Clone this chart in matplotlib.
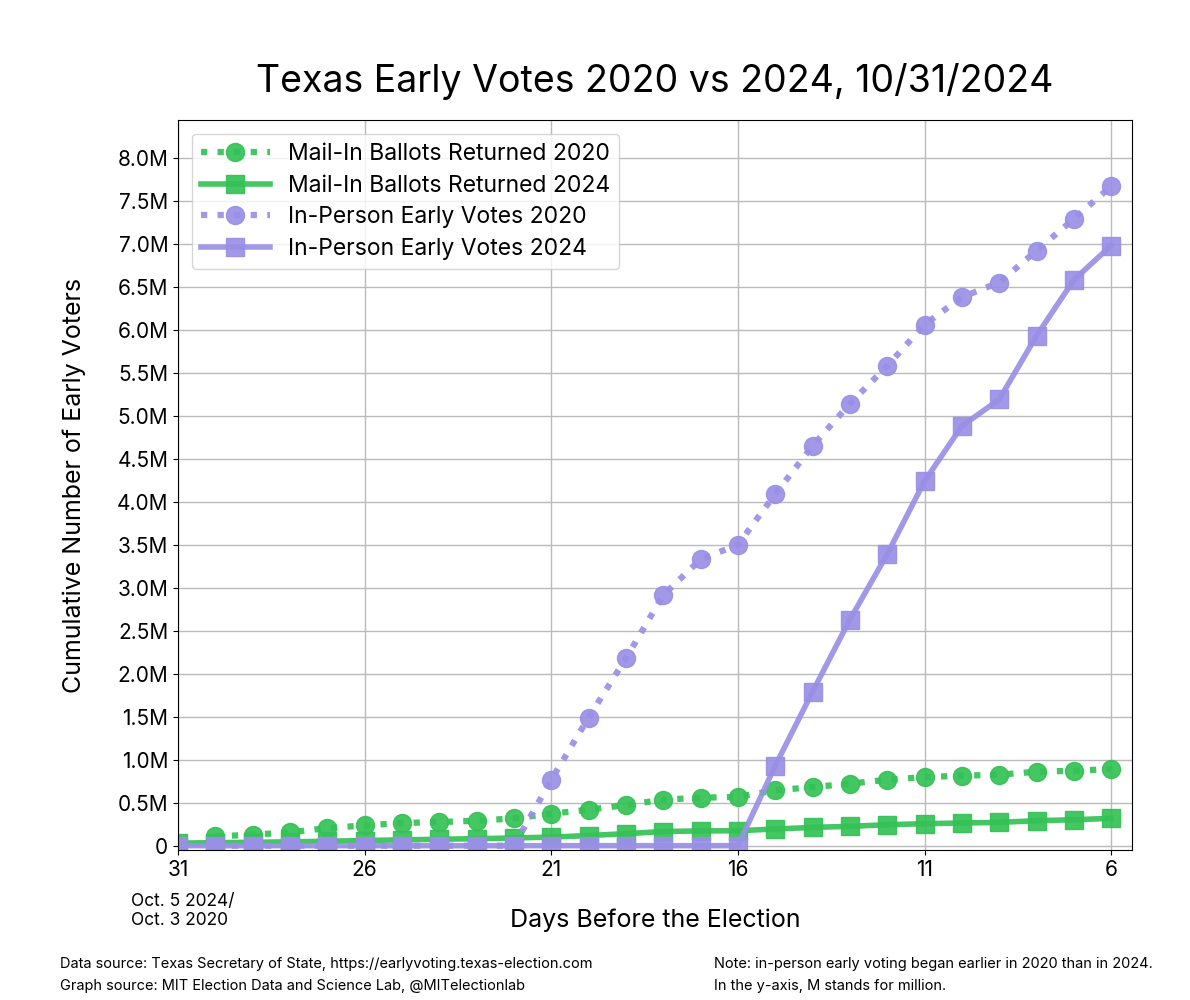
import matplotlib
matplotlib.use("Agg")
import matplotlib.pyplot as plt
from matplotlib.ticker import FuncFormatter, MultipleLocator
import numpy as np

plt.rcParams['font.family'] = ['Inter', 'DejaVu Sans']

days = list(range(31, 5, -1))  # 31 .. 6

mail_2020 = [None, 0.108, 0.128, 0.155, 0.205, 0.236, 0.264, 0.275, 0.290, 0.318,
             0.372, 0.419, 0.473, 0.535, 0.558, 0.568, 0.643, 0.682, 0.721, 0.767,
             0.798, 0.814, 0.826, 0.860, 0.872, 0.891]
mail_2024 = [0.030, 0.035, 0.040, 0.045, 0.052, 0.060, 0.068, 0.075, 0.082, 0.090,
             0.100, 0.118, 0.140, 0.165, 0.172, 0.174, 0.194, 0.213, 0.225, 0.244,
             0.256, 0.264, 0.271, 0.291, 0.302, 0.318]
inperson_2020 = [None, 0.0, 0.0, 0.0, 0.0, 0.0, 0.0, 0.0, 0.0, 0.0,
                 0.767, 1.49, 2.18, 2.915, 3.33, 3.50, 4.09, 4.65, 5.14, 5.58,
                 6.06, 6.38, 6.55, 6.92, 7.29, 7.67]
inperson_2024 = [0.0, 0.0, 0.0, 0.0, 0.0, 0.0, 0.0, 0.0, 0.0, 0.0,
                 0.0, 0.0, 0.0, 0.0, 0.0, 0.0, 0.93, 1.79, 2.63, 3.39,
                 4.24, 4.88, 5.19, 5.93, 6.58, 6.98]

labels = ["Mail-In Ballots Returned 2020", "Mail-In Ballots Returned 2024",
          "In-Person Early Votes 2020", "In-Person Early Votes 2024"]
x_ticks = [31, 26, 21, 16, 11, 6]

green = '#34C155'
purple = '#9990E6'


def to_arr(vals):
    return np.array([np.nan if v is None else v * 1e6 for v in vals], dtype=float)


fig = plt.figure(figsize=(11.9, 10), dpi=100)
ax = fig.add_axes([0.1496, 0.15, 0.8014, 0.73])

ax.plot(days, to_arr(mail_2020), linestyle=':', lw=4.5, marker='o', ms=13,
        color=green, alpha=0.92, label=labels[0])
ax.plot(days, to_arr(mail_2024), linestyle='-', lw=4, marker='s', ms=13,
        color=green, alpha=0.92, label=labels[1])
ax.plot(days, to_arr(inperson_2020), linestyle=':', lw=4.5, marker='o', ms=13,
        color=purple, alpha=0.92, label=labels[2])
ax.plot(days, to_arr(inperson_2024), linestyle='-', lw=4, marker='s', ms=13,
        color=purple, alpha=0.92, label=labels[3])

ax.set_xlim(31, 5.45)
ax.set_ylim(-0.05e6, 8.44e6)
ax.set_xticks(x_ticks)
ax.set_xticklabels([str(d) for d in x_ticks])
ax.yaxis.set_major_locator(MultipleLocator(0.5e6))


def fmt(v, pos):
    if abs(v) < 1:
        return "0"
    return f"{v / 1e6:.1f}M"


ax.yaxis.set_major_formatter(FuncFormatter(fmt))
ax.tick_params(axis='both', labelsize=15)
ax.grid(True, color='#bbbbbb', lw=1)
ax.set_axisbelow(True)

ax.set_ylabel("Cumulative Number of Early Voters", fontsize=18, labelpad=22)
ax.set_xlabel("Days Before the Election", fontsize=18, labelpad=21)

leg = ax.legend(loc='upper left', fontsize=16.5, frameon=True, borderpad=0.4,
                handlelength=3, labelspacing=0.42, borderaxespad=0.6)
leg.get_frame().set_edgecolor('#cccccc')

fig.text(0.5504, 0.919, "Texas Early Votes 2020 vs 2024, 10/31/2024", ha='center',
         va='center', fontsize=27)
fig.text(0.110, 0.089, "Oct. 5 2024/\nOct. 3 2020", ha='left', va='center',
         fontsize=12.5, linespacing=1.15)
fig.text(0.050, 0.025, "Data source: Texas Secretary of State, https://earlyvoting.texas-election.com\n"
         "Graph source: MIT Election Data and Science Lab, @MITelectionlab",
         ha='left', va='center', fontsize=10.5, linespacing=1.65)
fig.text(0.600, 0.025, "Note: in-person early voting began earlier in 2020 than in 2024.\n"
         "In the y-axis, M stands for million.",
         ha='left', va='center', fontsize=10.5, linespacing=1.65)

fig.savefig("out.png", dpi=100)
